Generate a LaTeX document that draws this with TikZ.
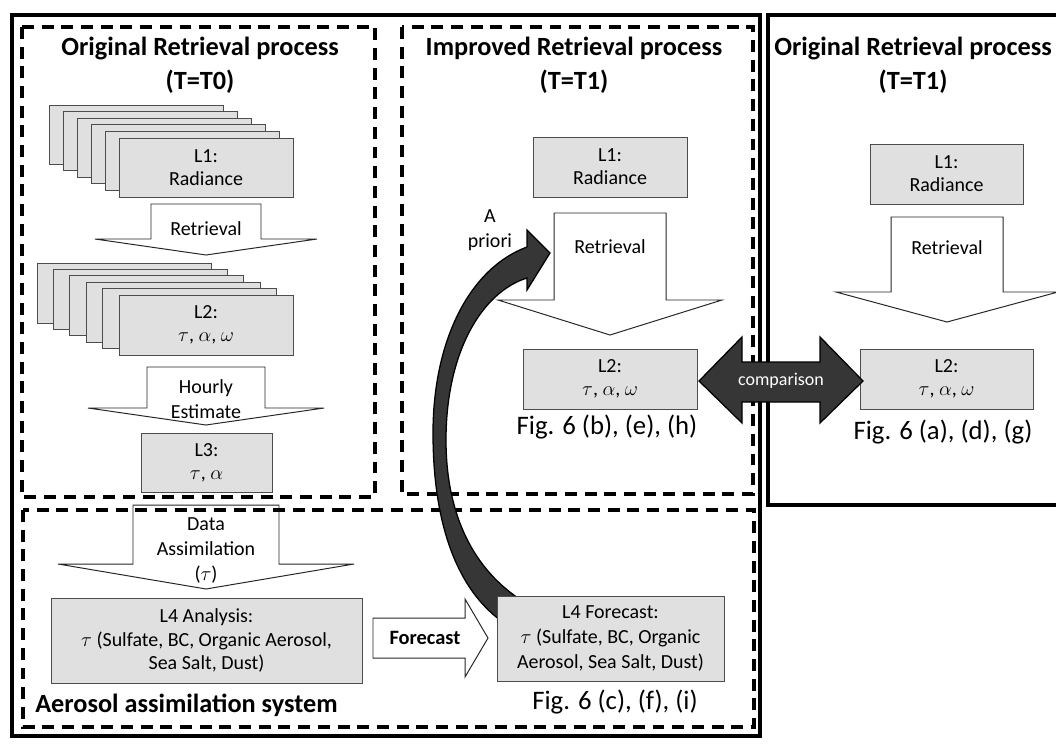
\documentclass[tikz,border=0pt]{standalone}
\usepackage{fontspec}
\setmainfont{Carlito}
\tikzset{>=stealth}
\definecolor{boxgray}{gray}{0.88}
\definecolor{darkarrow}{gray}{0.21}
\tikzset{
    box/.style={draw=black!70, fill=boxgray, line width=0.7pt, inner sep=0pt, align=center, font=\fontsize{14.2}{16.5}\selectfont},
    boxdim/.style 2 args={minimum width=#1*0.025cm, minimum height=#2*0.025cm},
    frame/.style={line width=3.1pt},
    dashbox/.style={line width=2.2pt, dash pattern=on 8.5pt off 5.5pt},
    blockarrow/.style={draw=black!85, fill=white, line width=0.7pt},
    darkshape/.style={draw=black, fill=darkarrow, line width=0.9pt},
    lbl/.style={font=\fontsize{14.2}{17.8}\selectfont, align=center, inner sep=0pt},
    title/.style={font=\bfseries\fontsize{18.7}{24.2}\selectfont, align=center, inner sep=0pt},
    figlbl/.style={font=\fontsize{19}{22}\selectfont, inner sep=0pt}
}
\newcommand{\downblock}[6]{%
    \draw[blockarrow] (#1-#3,#2) -- (#1+#3,#2) -- (#1+#3,#5) -- (#1+#4,#5) -- (#1,#6) -- (#1-#4,#5) -- (#1-#3,#5) -- cycle;}

\begin{document}
\begin{tikzpicture}[x=0.025cm, y=-0.025cm]
    \useasboundingbox (0,0) rectangle (1056,743);
    \draw[frame] (12,15) rectangle (760,736);
    \draw[frame] (768,15) rectangle (1075,505);

    \downblock{206}{204}{55}{111}{239}{255}
    \downblock{206}{367}{59}{118}{408}{425}
    \downblock{206}{505}{73}{148}{564}{589}
    \downblock{610}{213}{56}{112}{300}{335}
    \downblock{947}{217}{56}{111}{292}{322}
    \draw[blockarrow] (373,618) -- (465,618) -- (465,599) -- (488,638) -- (465,677) -- (465,658) -- (373,658) -- cycle;

    \draw[dashbox] (22,27) rectangle (375,497);
    \draw[dashbox] (402,27) rectangle (753,494);
    \draw[dashbox] (23,510) rectangle (754,727);

    \draw[darkshape] (500,620) .. controls (460,590) and (433,530) .. (433,433) .. controls (433,340) and (470,268) .. (527,247) -- (527,230) -- (550,253) -- (527,290) -- (527,278) .. controls (482,292) and (446,352) .. (446,440) .. controls (446,510) and (470,565) .. (518,598) -- cycle;

    \foreach \i in {5,...,1}
        \draw[box, shift={(-14*\i,-6.6*\i)}] (119,138) rectangle (293,197);
    \node[box, boxdim={174}{59}] (l1old) at (206,167.5) {L1:\\Radiance};
    \foreach \i in {5,...,1}
        \draw[box, shift={(-16.4*\i,-6.4*\i)}] (119,295) rectangle (293,355);
    \node[box, boxdim={174}{60}] (l2old) at (206,325) {L2:\\$\tau$, $\alpha$, $\omega$};
    \node[box, boxdim={131}{59}] (l3) at (206.5,462.5) {L3:\\$\tau$, $\alpha$};
    \node[box, boxdim={311}{85}, font=\fontsize{14.2}{17}\selectfont] (analysis) at (206.5,640.5) {L4 Analysis:\\$\tau$ (Sulfate, BC, Organic Aerosol,\\Sea Salt, Dust)};
    \node[box, boxdim={227}{85}, font=\fontsize{14.2}{17.5}\selectfont] (forecast) at (610.5,638.5) {L4 Forecast:\\$\tau$ (Sulfate, BC, Organic\\Aerosol, Sea Salt, Dust)};
    \node[box, boxdim={154}{60}] (l1new) at (610,167) {L1:\\Radiance};
    \node[box, boxdim={174}{60}] (l2new) at (610,379) {L2:\\$\tau$, $\alpha$, $\omega$};
    \node[box, boxdim={153}{60}] (l1ref) at (946.5,174) {L1:\\Radiance};
    \node[box, boxdim={173}{60}] (l2ref) at (946.5,379) {L2:\\$\tau$, $\alpha$, $\omega$};

    \draw[darkshape] (699,381) -- (742,337) -- (742,362) -- (820,362) -- (820,337) -- (863,381) -- (820,423) -- (820,402) -- (742,402) -- (742,423) -- cycle;
    \node[lbl, text=white, font=\fontsize{12.8}{15}\selectfont] (cmp) at (781,381) {comparison};

    \node[title] (t0title) at (200,65) {Original Retrieval process\\(T=T0)};
    \node[title] (t1title) at (574,65) {Improved Retrieval process\\(T=T1)};
    \node[title] (reftitle) at (913,65) {Original Retrieval process\\(T=T1)};
    \node[title, anchor=west] (systitle) at (35,705) {Aerosol assimilation system};

    \node[lbl] (retr1) at (206,229) {Retrieval};
    \node[lbl] (hourly) at (206,399) {Hourly\\Estimate};
    \node[lbl] (assim) at (206,550) {Data\\Assimilation\\($\tau$)};
    \node[lbl] (retr2) at (610,247) {Retrieval};
    \node[lbl] (retr3) at (947,248) {Retrieval};
    \node[lbl, font=\bfseries\fontsize{14.5}{17}\selectfont] (fcst) at (425,638) {Forecast};
    \node[lbl] (apriori) at (490,230) {A\\priori};

    \node[figlbl] (fignew) at (607,427) {Fig. 6 (b), (e), (h)};
    \node[figlbl] (figref) at (943,432) {Fig. 6 (a), (d), (g)};
    \node[figlbl] (figfc) at (615,702) {Fig. 6 (c), (f), (i)};
\end{tikzpicture}
\end{document}
